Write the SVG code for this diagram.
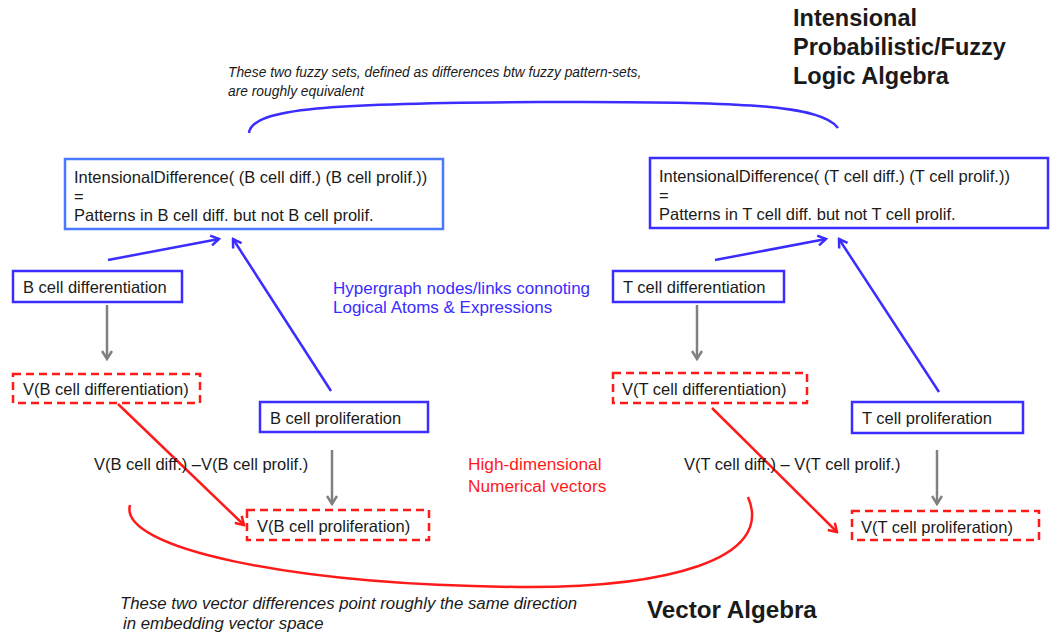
<svg xmlns="http://www.w3.org/2000/svg" width="1053" height="637" viewBox="0 0 1053 637">
<style>
text{font-family:"Liberation Sans",Arial,sans-serif;font-size:16.5px;fill:#1a1a1a}
.it{font-style:italic;font-size:13.8px}
.it2{font-style:italic;font-size:16.8px}
.bold{font-weight:bold}
.blue{fill:#3b2cff;font-size:17px}
.red{fill:#ff1a1a;font-size:17.3px}
.bbox{fill:#fff;stroke:#3b2cff;stroke-width:2.5}
.rbox{fill:#fff;stroke:#ff1a1a;stroke-width:2.5;stroke-dasharray:8 5}
.bl{stroke:#3b2cff;stroke-width:2.5;fill:none}
.rl{stroke:#ff1a1a;stroke-width:2.5;fill:none}
.gl{stroke:#808080;stroke-width:2.5;fill:none}
</style>
<defs>
<marker id="ab" markerWidth="12" markerHeight="12" refX="10" refY="6" orient="auto" markerUnits="userSpaceOnUse"><path d="M2,1 L10,6 L2,11" fill="none" stroke="#3b2cff" stroke-width="2.5"/></marker>
<marker id="ar" markerWidth="12" markerHeight="12" refX="10" refY="6" orient="auto" markerUnits="userSpaceOnUse"><path d="M2,1 L10,6 L2,11" fill="none" stroke="#ff1a1a" stroke-width="2.5"/></marker>
<marker id="ag" markerWidth="12" markerHeight="12" refX="10" refY="6" orient="auto" markerUnits="userSpaceOnUse"><path d="M2,1 L10,6 L2,11" fill="none" stroke="#808080" stroke-width="2.5"/></marker>
</defs>

<g id="title-logic">
<text class="bold" x="793" y="26" style="font-size:23.5px">Intensional</text>
<text class="bold" x="793" y="55" style="font-size:23.5px">Probabilistic/Fuzzy</text>
<text class="bold" x="793" y="84" style="font-size:23.5px">Logic Algebra</text>
</g>
<g id="title-vector">
<text class="bold" x="647" y="618" style="font-size:24.2px">Vector Algebra</text>
</g>
<g id="note-top">
<text class="it" x="228" y="77">These two fuzzy sets, defined as differences btw fuzzy pattern-sets,</text>
<text class="it" x="228" y="96">are roughly equivalent</text>
</g>
<g id="note-bottom">
<text class="it2" x="120" y="609">These two vector differences point roughly the same direction</text>
<text class="it2" x="123" y="629">in embedding vector space</text>
</g>
<g id="label-hypergraph">
<text class="blue" x="333" y="294">Hypergraph nodes/links connoting</text>
<text class="blue" x="333" y="313">Logical Atoms &amp; Expressions</text>
</g>
<g id="label-numerical">
<text class="red" x="468" y="470">High-dimensional</text>
<text class="red" x="468" y="492">Numerical vectors</text>
</g>

<g id="connectors">
<path class="bl" d="M249,133 C252,108 330,103 540,102 C740,101 822,105 838,128"/>
<path class="rl" d="M130,505 C118,548 290,585 520,587 C665,588 775,560 748,497"/>
<line class="bl" x1="108" y1="260" x2="219" y2="239" marker-end="url(#ab)"/>
<line class="bl" x1="331" y1="391" x2="233" y2="239" marker-end="url(#ab)"/>
<line class="bl" x1="715" y1="260" x2="826" y2="239" marker-end="url(#ab)"/>
<line class="bl" x1="939" y1="392" x2="839" y2="239" marker-end="url(#ab)"/>
<line class="gl" x1="107" y1="305" x2="107" y2="359" marker-end="url(#ag)"/>
<line class="gl" x1="697" y1="305" x2="697" y2="359" marker-end="url(#ag)"/>
<line class="gl" x1="332" y1="450" x2="332" y2="504" marker-end="url(#ag)"/>
<line class="gl" x1="937" y1="450" x2="937" y2="504" marker-end="url(#ag)"/>
<line class="rl" x1="118" y1="404" x2="244" y2="525" marker-end="url(#ar)"/>
<line class="rl" x1="712" y1="408" x2="837" y2="532" marker-end="url(#ar)"/>
</g>

<g id="node-b-intdiff">
<rect x="65" y="159" width="378" height="70" fill="#fff" stroke="#4a78ff" stroke-width="2.5"/>
<text x="74" y="183">IntensionalDifference( (B cell diff.) (B cell prolif.))</text>
<text x="74" y="202">=</text>
<text x="74" y="221">Patterns in B cell diff. but not B cell prolif.</text>
</g>
<g id="node-t-intdiff">
<rect class="bbox" x="650" y="158" width="398" height="70"/>
<text x="659" y="182">IntensionalDifference( (T cell diff.) (T cell prolif.))</text>
<text x="659" y="201">=</text>
<text x="659" y="220">Patterns in T cell diff. but not T cell prolif.</text>
</g>
<g id="node-b-diff">
<rect class="bbox" x="13" y="271" width="169" height="31"/>
<text x="23" y="293">B cell differentiation</text>
</g>
<g id="node-t-diff">
<rect class="bbox" x="613" y="271" width="171" height="31"/>
<text x="623" y="293">T cell differentiation</text>
</g>
<g id="node-b-prolif">
<rect class="bbox" x="260" y="402" width="168" height="30"/>
<text x="270" y="424">B cell proliferation</text>
</g>
<g id="node-t-prolif">
<rect class="bbox" x="852" y="402" width="171" height="31"/>
<text x="862" y="424">T cell proliferation</text>
</g>
<g id="node-vb-diff">
<rect class="rbox" x="13" y="374" width="187" height="29"/>
<text x="23" y="395">V(B cell differentiation)</text>
</g>
<g id="node-vt-diff">
<rect class="rbox" x="613" y="373" width="194" height="30"/>
<text x="622" y="395">V(T cell differentiation)</text>
</g>
<g id="node-vb-prolif">
<rect class="rbox" x="247" y="510" width="182" height="30"/>
<text x="257" y="532">V(B cell proliferation)</text>
</g>
<g id="node-vt-prolif">
<rect class="rbox" x="852" y="511" width="187" height="29"/>
<text x="861" y="533">V(T cell proliferation)</text>
</g>
<g id="label-b-vdiff">
<text x="94" y="470">V(B cell diff.) –V(B cell prolif.)</text>
</g>
<g id="label-t-vdiff">
<text x="684" y="470">V(T cell diff.) – V(T cell prolif.)</text>
</g>
</svg>
